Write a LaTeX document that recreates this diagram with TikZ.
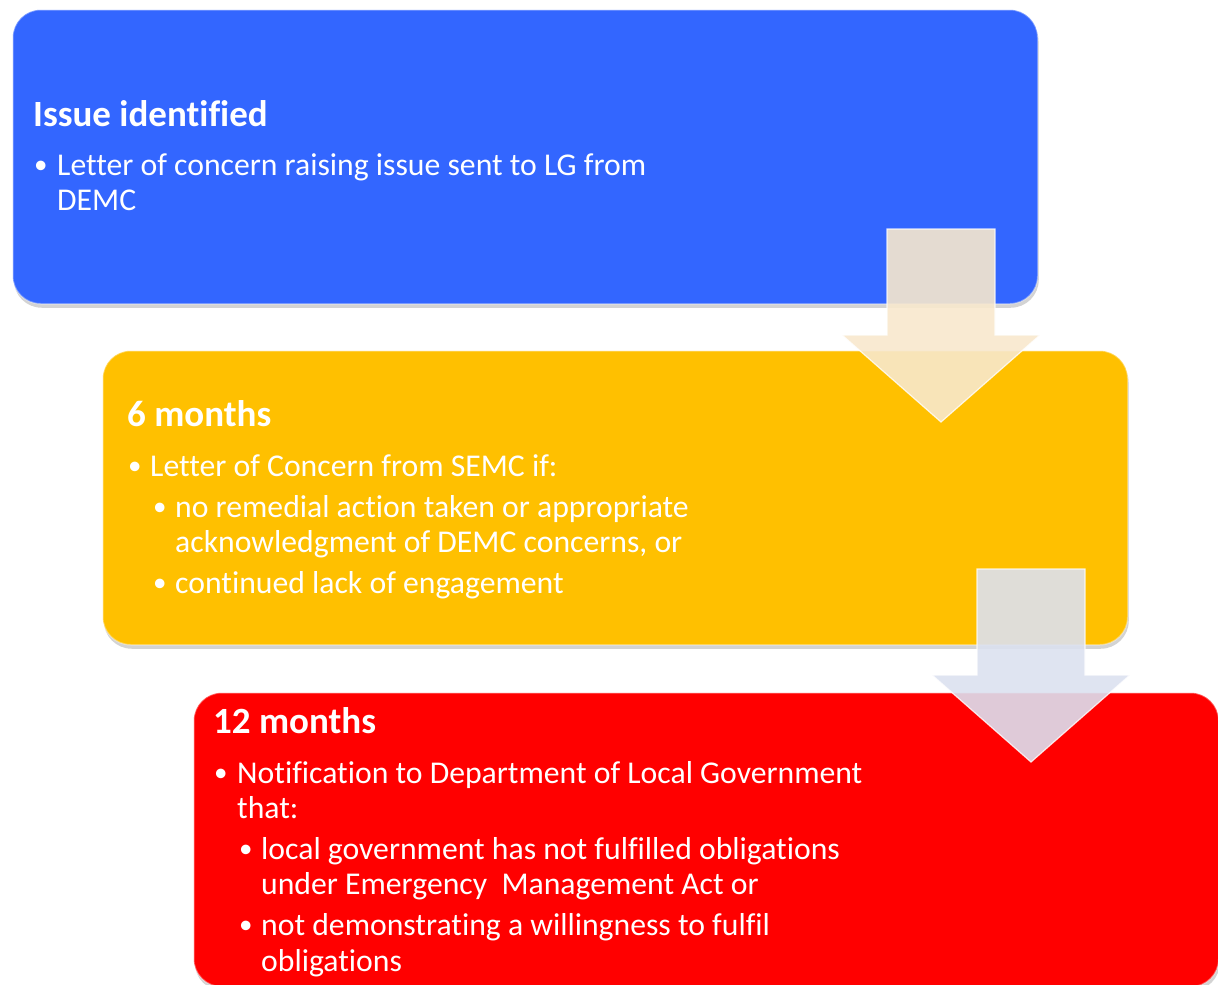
\documentclass[tikz,border=0pt]{standalone}
\usepackage{fontspec}
\setmainfont[Ligatures=CommonOff]{Carlito}
\usetikzlibrary{shadows,calc}
\definecolor{boxblue}{RGB}{51,102,255}
\definecolor{boxyellow}{RGB}{255,192,0}
\definecolor{boxred}{RGB}{255,0,0}
\definecolor{arrowcream}{RGB}{248,232,205}
\definecolor{arrowlav}{RGB}{220,225,240}
\begin{document}
\begin{tikzpicture}[x=1pt,y=-1pt,
  box/.style={rectangle, rounded corners=28pt, anchor=north west, inner sep=0pt,
    minimum width=1025pt, minimum height=294pt, draw=white, draw opacity=0.35, line width=1.5pt,
    drop shadow={opacity=0.35,shadow xshift=1pt,shadow yshift=-4pt}},
  head/.style={anchor=base west, inner sep=0pt, text=white, font=\fontsize{37}{40}\selectfont\bfseries},
  body/.style={anchor=base west, inner sep=0pt, text=white, font=\fontsize{31.7}{35}\selectfont},
  bul/.style={anchor=base west, inner sep=0pt, text=white, font=\fontsize{27}{35}\selectfont},
  blockarrow/.style={fill opacity=0.9, draw=white, draw opacity=0.8, line width=1.2pt, line join=miter}
]
\useasboundingbox (0,0) rectangle (1218,985);
% boxes
\node[box, fill=boxblue]   (b1) at (12,9)   {};
\node[box, fill=boxyellow] (b2) at (102,350) {};
\node[box, fill=boxred]    (b3) at (193,692) {};
% arrow 1
\coordinate (a1top) at (941,229);
\coordinate (a1tip) at (941,422);
\filldraw[fill=arrowcream, blockarrow]
  ($(a1top)+(-54,0)$) -- ($(a1top)+(54,0)$) -- ($(a1top)+(54,106)$) -- ($(a1top)+(99,106)$)
  -- (a1tip) -- ($(a1top)+(-99,106)$) -- ($(a1top)+(-54,106)$) -- cycle;
% arrow 2
\coordinate (a2top) at (1031,569);
\coordinate (a2tip) at (1031,762);
\filldraw[fill=arrowlav, blockarrow]
  ($(a2top)+(-54,0)$) -- ($(a2top)+(54,0)$) -- ($(a2top)+(54,106)$) -- ($(a2top)+(99,106)$)
  -- (a2tip) -- ($(a2top)+(-99,106)$) -- ($(a2top)+(-54,106)$) -- cycle;
% texts box 1
\node[head] (h1) at (33,126) {Issue identified};
\node[bul] (p1d) at (34,173) {•};
\node[body] (p1a) at (57,175) {Letter of concern raising issue sent to LG from};
\node[body] (p1b) at (57,210) {DEMC};
% texts box 2
\node[head] (h2) at (127,426) {6 months};
\node[bul] (p2d) at (128,474) {•};
\node[body] (p2a) at (150,476) {Letter of Concern from SEMC if:};
\node[bul] (p2e) at (153,515) {•};
\node[body] (p2b) at (175,517) {no remedial action taken or appropriate};
\node[body] (p2c) at (175,552) {acknowledgment of DEMC concerns, or};
\node[bul] (p2f) at (153,591) {•};
\node[body] (p2g) at (175,593) {continued lack of engagement};
% texts box 3
\node[head] (h3) at (213,733) {12 months};
\node[bul] (p3d) at (214,781) {•};
\node[body] (p3a) at (237,783) {Notification to Department of Local Government};
\node[body] (p3b) at (237,818) {that:};
\node[bul] (p3e) at (239,857) {•};
\node[body] (p3c) at (261,859) {local government has not fulfilled obligations};
\node[body] (p3f) at (261,894) {under Emergency\ \ Management Act or};
\node[bul] (p3g) at (239,933) {•};
\node[body] (p3h) at (261,935) {not demonstrating a willingness to fulfil};
\node[body] (p3i) at (261,971) {obligations};
\end{tikzpicture}
\end{document}
